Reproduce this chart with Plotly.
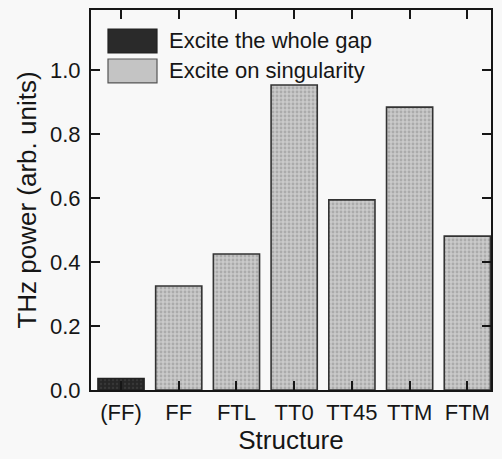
import plotly.graph_objects as go

# Structures and measured THz power (arbitrary units)
whole_gap_structures = ["(FF)"]
whole_gap_power = [0.036]

singularity_structures = ["FF", "FTL", "TT0", "TT45", "TTM", "FTM"]
singularity_power = [0.325, 0.425, 0.953, 0.594, 0.884, 0.481]

categories = ["(FF)", "FF", "FTL", "TT0", "TT45", "TTM", "FTM"]
y_ticks = [0.0, 0.2, 0.4, 0.6, 0.8, 1.0]

ink = "#161616"
font = "Liberation Sans, Arial, Helvetica, sans-serif"
bg = "#f8f8f8"

fig = go.Figure()
fig.add_trace(go.Bar(
    x=whole_gap_structures, y=whole_gap_power, name="Excite the whole gap",
    width=0.8,
    marker=dict(color="#2a2a2a", line=dict(color="#222222", width=1.5),
                pattern=dict(shape=".", fgcolor="#4a4a4a", bgcolor="#262626",
                             size=4, solidity=0.25)),
    showlegend=False,
))
fig.add_trace(go.Bar(
    x=singularity_structures, y=singularity_power, name="Excite on singularity",
    width=0.8,
    marker=dict(color="#c2c2c2", line=dict(color="#333333", width=1.6),
                pattern=dict(shape=".", fgcolor="#8c8c8c", bgcolor="#cacaca",
                             size=4, solidity=0.4)),
    showlegend=False,
))

# Legend drawn as swatches with labels in the upper-left corner of the frame
legend_items = [
    ("Excite the whole gap", "#2a2a2a", "#222222"),
    ("Excite on singularity", "#c4c4c4", "#555555"),
]
x0, x1 = 0.0425, 0.165
rows = [(0.95, 0.887), (0.871, 0.808)]
for (label, fill, edge), (ytop, ybot) in zip(legend_items, rows):
    fig.add_shape(type="rect", xref="paper", yref="paper",
                  x0=x0, x1=x1, y0=ybot, y1=ytop,
                  fillcolor=fill, line=dict(color=edge, width=1.2))
    fig.add_annotation(xref="paper", yref="paper", x=0.19, y=(ytop + ybot) / 2,
                       text=label, showarrow=False, xanchor="left", yanchor="middle",
                       font=dict(family=font, size=22, color=ink))

fig.update_layout(
    width=502, height=459,
    margin=dict(l=91, r=11, t=10, b=69),
    paper_bgcolor=bg, plot_bgcolor=bg,
    barmode="overlay",
    font=dict(family=font, size=22, color=ink),
    xaxis=dict(
        categoryorder="array", categoryarray=categories,
        range=[-0.52, 6.41],
        showline=True, linecolor=ink, linewidth=2, mirror="ticks",
        ticks="inside", ticklen=9, tickwidth=2, tickcolor=ink,
        tickfont=dict(size=22), ticklabelstandoff=2,
        title=dict(text="Structure", font=dict(size=26), standoff=2),
        showgrid=False, zeroline=False, automargin=False,
        layer="above traces",
    ),
    yaxis=dict(
        range=[0, 1.1875],
        tickvals=y_ticks, ticktext=[f"{v:.1f}" for v in y_ticks],
        showline=True, linecolor=ink, linewidth=2, mirror="ticks",
        ticks="inside", ticklen=9, tickwidth=2, tickcolor=ink,
        tickfont=dict(size=22), ticklabelstandoff=4,
        title=dict(text="THz power (arb. units)", font=dict(size=26), standoff=6),
        showgrid=False, zeroline=False, automargin=False,
        layer="above traces",
    ),
)

fig.write_html("out.html")
